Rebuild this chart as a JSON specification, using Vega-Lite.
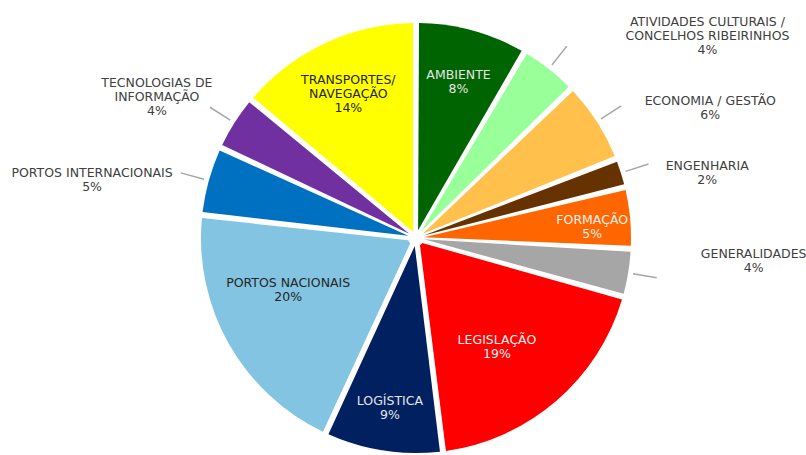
{
  "$schema": "https://vega.github.io/schema/vega-lite/v6.json",
  "autosize": "none",
  "width": 780,
  "height": 434,
  "padding": {"left": 26, "top": 21, "right": 0, "bottom": 0},
  "background": "white",
  "config": {"view": {"stroke": null}, "text": {"font": "DejaVu Sans", "fontSize": 12.5, "lineHeight": 14}},
  "data": {"values": [
    {"rank": 1, "name": "AMBIENTE", "value": 8.4},
    {"rank": 2, "name": "ATIVIDADES CULTURAIS /\nCONCELHOS RIBEIRINHOS", "value": 4.4},
    {"rank": 3, "name": "ECONOMIA / GESTÃO", "value": 6.2},
    {"rank": 4, "name": "ENGENHARIA", "value": 2.2},
    {"rank": 5, "name": "FORMAÇÃO", "value": 4.6},
    {"rank": 6, "name": "GENERALIDADES", "value": 3.6},
    {"rank": 7, "name": "LEGISLAÇÃO", "value": 18.6},
    {"rank": 8, "name": "LOGÍSTICA", "value": 8.9},
    {"rank": 9, "name": "PORTOS NACIONAIS", "value": 19.8},
    {"rank": 10, "name": "PORTOS INTERNACIONAIS", "value": 5.2},
    {"rank": 11, "name": "TECNOLOGIAS DE\nINFORMAÇÃO", "value": 4.2},
    {"rank": 12, "name": "TRANSPORTES/\nNAVEGAÇÃO", "value": 13.9}
  ]},
  "transform": [
    {"stack": "value", "groupby": [], "sort": [{"field": "rank", "order": "ascending"}], "as": ["t0", "t1"]},
    {"calculate": "(datum.t0 + datum.t1) / 2", "as": "mid"},
    {"calculate": "datum.mid - 0.05", "as": "l0"},
    {"calculate": "datum.mid + 0.05", "as": "l1"},
    {"calculate": "split(datum.name + '\\n' + format(datum.value / 100, '.0%'), '\\n')", "as": "lines"}
  ],
  "encoding": {
    "theta": {"field": "mid", "type": "quantitative", "stack": null, "scale": {"domain": [0, 100]}}
  },
  "layer": [
    {
      "mark": {"type": "arc", "outerRadius": 215, "innerRadius": 8, "padAngle": 0.028},
      "encoding": {
        "theta": {"field": "t0", "type": "quantitative", "stack": null, "scale": {"domain": [0, 100]}},
        "theta2": {"field": "t1"},
        "color": {
          "field": "name", "type": "nominal", "legend": null,
          "scale": {
            "domain": ["AMBIENTE", "ATIVIDADES CULTURAIS /\nCONCELHOS RIBEIRINHOS", "ECONOMIA / GESTÃO", "ENGENHARIA", "FORMAÇÃO", "GENERALIDADES", "LEGISLAÇÃO", "LOGÍSTICA", "PORTOS NACIONAIS", "PORTOS INTERNACIONAIS", "TECNOLOGIAS DE\nINFORMAÇÃO", "TRANSPORTES/\nNAVEGAÇÃO"],
            "range": ["#006400", "#99FF99", "#FFC04C", "#663300", "#FF6600", "#A6A6A6", "#FF0000", "#002060", "#82C4E2", "#0070C0", "#7030A0", "#FFFF00"]
          }
        }
      }
    },
    {
      "transform": [{"filter": {"field": "rank", "oneOf": [2, 3, 4, 6, 10, 11]}}],
      "mark": {"type": "arc", "outerRadius": 244, "innerRadius": 220, "fill": "#A6A6A6"},
      "encoding": {
        "theta": {"field": "l0", "type": "quantitative", "stack": null, "scale": {"domain": [0, 100]}},
        "theta2": {"field": "l1"}
      }
    },
    {"transform": [{"filter": "datum.rank == 1"}], "mark": {"type": "text", "radius": 163, "dy": -6, "fill": "#E6E6E6"}, "encoding": {"text": {"field": "lines"}}},
    {"transform": [{"filter": "datum.rank == 5"}], "mark": {"type": "text", "radius": 177, "dy": -1, "fill": "#F2F2F2"}, "encoding": {"text": {"field": "lines"}}},
    {"transform": [{"filter": "datum.rank == 7"}], "mark": {"type": "text", "radius": 138, "dx": -9, "dy": -3, "fill": "#F2F2F2"}, "encoding": {"text": {"field": "lines"}}},
    {"transform": [{"filter": "datum.rank == 8"}], "mark": {"type": "text", "radius": 170, "dy": -5, "fill": "#E6E6E6"}, "encoding": {"text": {"field": "lines"}}},
    {"transform": [{"filter": "datum.rank == 9"}], "mark": {"type": "text", "radius": 140, "dx": -6, "dy": -24, "fill": "#262626"}, "encoding": {"text": {"field": "lines"}}},
    {"transform": [{"filter": "datum.rank == 12"}], "mark": {"type": "text", "radius": 160, "dy": -13, "fill": "#262626"}, "encoding": {"text": {"field": "lines"}}},
    {"transform": [{"filter": "datum.rank == 2"}], "mark": {"type": "text", "radius": 250, "dx": 137, "dy": -19, "fill": "#404040"}, "encoding": {"text": {"field": "lines"}}},
    {"transform": [{"filter": "datum.rank == 3"}], "mark": {"type": "text", "radius": 250, "dx": 84, "dy": -2, "fill": "#404040"}, "encoding": {"text": {"field": "lines"}}},
    {"transform": [{"filter": "datum.rank == 4"}], "mark": {"type": "text", "radius": 250, "dx": 53, "dy": 4, "fill": "#404040"}, "encoding": {"text": {"field": "lines"}}},
    {"transform": [{"filter": "datum.rank == 6"}], "mark": {"type": "text", "radius": 250, "dx": 91, "dy": -25, "fill": "#404040"}, "encoding": {"text": {"field": "lines"}}},
    {"transform": [{"filter": "datum.rank == 10"}], "mark": {"type": "text", "radius": 250, "dx": -83, "dy": 2, "fill": "#404040"}, "encoding": {"text": {"field": "lines"}}},
    {"transform": [{"filter": "datum.rank == 11"}], "mark": {"type": "text", "radius": 250, "dx": -48, "dy": -21, "fill": "#404040"}, "encoding": {"text": {"field": "lines"}}}
  ]
}
